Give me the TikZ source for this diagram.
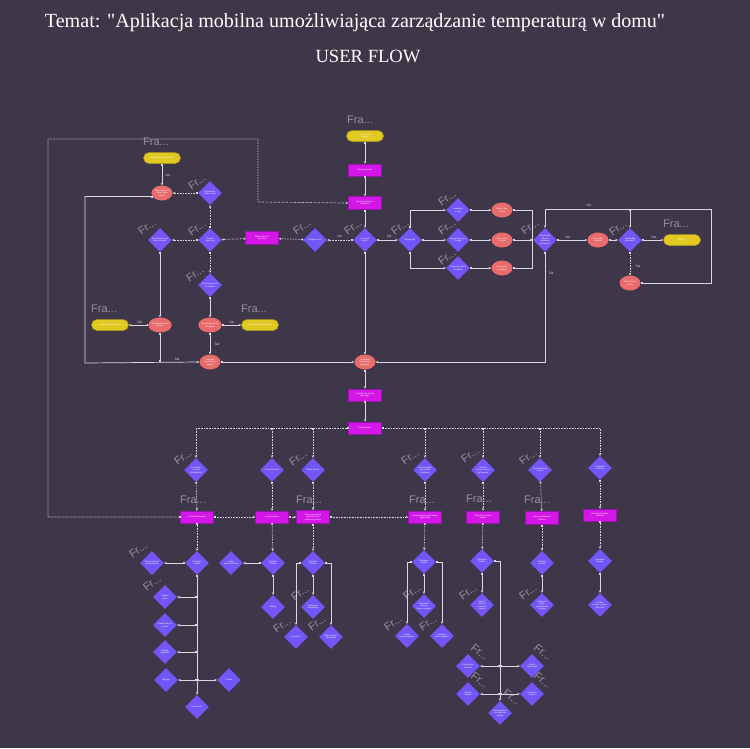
\documentclass[tikz,border=0pt]{standalone}
\usepackage{fontspec}
\setmainfont{Liberation Serif}
\newfontfamily\nf{Liberation Sans}
\usetikzlibrary{shapes.geometric,arrows.meta}
\definecolor{bgC}{RGB}{62,55,73}
\definecolor{diaC}{RGB}{114,86,247}
\definecolor{magC}{RGB}{212,22,232}
\definecolor{magD}{RGB}{150,20,170}
\definecolor{ellC}{RGB}{233,107,107}
\definecolor{yelC}{RGB}{224,201,32}
\definecolor{yelD}{RGB}{170,150,30}
\definecolor{lnC}{RGB}{218,215,224}
\definecolor{frC}{RGB}{150,146,158}
\newcommand\nt{\nf\fontsize{2.1}{2.5}\selectfont}
\begin{document}
\begin{tikzpicture}[x=1pt,y=-1pt,
  dia/.style={diamond,fill=diaC,minimum width=24pt,minimum height=24pt,inner sep=0pt,text=white,font=\nt,align=center},
  rectb/.style={rectangle,fill=magC,draw=magD,line width=0.5pt,minimum width=33pt,minimum height=12pt,inner sep=0.5pt,text=white,font=\nt,align=center},
  ell/.style={ellipse,fill=ellC,minimum width=21pt,minimum height=15pt,inner sep=0pt,text=white,font=\nt,align=center},
  pill/.style={rectangle,rounded corners=5.5pt,fill=yelC,draw=yelD,line width=0.5pt,minimum width=37pt,minimum height=11pt,inner sep=0.5pt,text=white,font=\nt,align=center},
  ed/.style={draw=lnC,line width=0.7pt,{Square[length=1.6pt,width=1.6pt]}-{Stealth[length=2.6pt,width=2.4pt]}},
  edsq/.style={draw=lnC,line width=0.7pt,{Square[length=1.6pt,width=1.6pt]}-{Square[length=1.6pt,width=1.6pt]}},
  dt/.style={ed,dash pattern=on 0.7pt off 0.9pt},
  lab/.style={text=lnC,font=\nf\fontsize{3.2}{3.5}\selectfont,inner sep=0pt},
  fra/.style={text=frC,font=\nf\fontsize{11}{11}\selectfont,inner sep=0pt},
  frr/.style={fra,rotate=36},
  frl/.style={fra,rotate=-38}]
\fill[bgC] (0,0) rectangle (750,748);
\useasboundingbox (0,0) rectangle (750,748);

% titles
\node[text=white,inner sep=0pt] (title) at (355,23) {\resizebox{620pt}{!}{Temat: \textquotedbl Aplikacja mobilna umożliwiająca zarządzanie temperaturą w domu\textquotedbl}};
\node[text=white,inner sep=0pt] (sub) at (368,56) {\resizebox{105pt}{!}{USER FLOW}};

% ---------- top: registration ----------
\node[pill] (start) at (365,136) {Uruchomienie\\aplikacji};
\node[rectb] (powit) at (365,170) {Ekran powitalny};
\node[rectb,minimum height=13pt] (logrej) at (365,203) {Ekran logowania /\\rejestracji};
\node[dia] (konto) at (365,240) {Czy masz\\konto?};
\node[dia] (zarej) at (315,240) {Zarejestruj się};
\node[rectb,minimum height=13pt] (dane) at (262,238) {Wpisz dane do\\rejestracji};
\node[dia] (sposob) at (210,240) {Sposób\\rejestracji};
\node[dia] (email) at (210,193) {Rejestracja\\przez e-mail};
\node[ell] (wer1) at (162,193) {Wprowadzenie\\i weryfikacja\\danych};
\node[pill] (ok1) at (162,158) {Rejestracja zakończona};
\node[dia] (google) at (160,240) {Rejestracja przez\\konto Google};
\node[ell] (wer2) at (160,325) {Weryfikacja konta\\Google};
\node[pill] (ok2) at (110,325) {Rejestracja zakończona};
\node[dia] (fb) at (210,285) {Rejestracja przez\\Facebook};
\node[ell] (wer3) at (210,325) {Weryfikacja konta\\Facebook};
\node[pill] (ok3) at (260,325) {Rejestracja zakończona};
\node[ell] (blad) at (210,362) {Ponowna\\weryfikacja\\danych};

% ---------- top: login ----------
\node[dia] (zalog) at (410,240) {Zaloguj się};
\node[dia] (le) at (458,210) {Logowanie\\e-mail};
\node[dia] (lg) at (458,240) {Logowanie przez\\Google};
\node[dia] (lf) at (458,268) {Logowanie przez\\Facebook};
\node[ell] (ae) at (502,210) {Wpisz login\\i hasło};
\node[ell] (ag) at (502,240) {Autoryzacja\\Google};
\node[ell] (af) at (502,268) {Autoryzacja\\Facebook};
\node[dia] (weryf) at (545,240) {Weryfikacja\\danych\\logowania\\poprawna?};
\node[ell] (kom) at (598,240) {Komunikat\\o błędzie};
\node[dia] (ponow) at (630,240) {Spróbować\\ponownie?};
\node[pill] (wyj) at (682,240) {Wyjście};
\node[ell] (reset) at (630,283) {Resetowanie\\hasła};
\node[ell] (sukc) at (365,362) {Logowanie\\zakończone\\pomyślnie};
\node[rectb] (przej) at (365,395) {Przejście do ekranu\\głównego};
\node[rectb] (glowny) at (365,428) {Ekran główny};

% ---------- main menu row ----------
\node[dia] (r1d) at (196,470) {Informacje\\o koncie\\użytkownika};
\node[dia] (r2d) at (272,470) {Pomieszczenia};
\node[dia] (r3d) at (313,470) {Wybór pokoju};
\node[dia] (r4d) at (425,470) {Harmonogram\\ogrzewania\\w tygodniu};
\node[dia] (r5d) at (483,470) {Zużycie\\energii i koszty\\ogrzewania};
\node[dia] (r6d) at (540,470) {Powiadomienia\\i alerty};
\node[dia] (r7d) at (600,468) {Ustawienia\\aplikacji};

\node[rectb] (p1) at (197,517) {Profil użytkownika};
\node[rectb] (p2) at (272,517) {Pomieszczenia};
\node[rectb,minimum height=13pt] (p3) at (313,517) {Panel sterowania\\temperaturą w\\wybranym pokoju};
\node[rectb] (p4) at (425,517) {Harmonogram ogrzewania\\tygodniowy};
\node[rectb] (p5) at (483,517) {Statystyki zużycia\\energii};
\node[rectb,minimum height=13pt] (p6) at (542,518) {Lista powiadomień\\i alertów};
\node[rectb] (p7) at (600,515) {Ustawienia ogólne\\aplikacji};

% ---------- lower columns ----------
\node[dia] (d1a) at (197,563) {Dostępne\\funkcje};
\node[dia] (d1l) at (152,563) {Zmiana danych\\personalnych};
\node[dia] (d1b) at (165,597) {Zmiana\\hasła};
\node[dia] (d1c) at (165,625) {Zmiana adresu\\e-mail};
\node[dia] (d1d) at (165,652) {Metody\\logowania};
\node[dia] (d1e) at (166,680) {Wyloguj};
\node[dia] (d1f) at (229,680) {Pomoc};
\node[dia] (d1g) at (197,707) {Usuń konto};

\node[dia] (d2a) at (273,563) {Dostępne\\funkcje};
\node[dia] (d2l) at (231,563) {Dodaj\\pomieszczenie};
\node[dia] (d2b) at (273,607) {Edytuj};

\node[dia] (d3a) at (313,563) {Dostępne\\funkcje};
\node[dia] (d3b) at (313,607) {Ustawienie\\temperatury};
\node[dia] (d3c) at (296,637) {Tryb ECO};
\node[dia] (d3d) at (331,637) {Włącz/wyłącz\\ogrzewanie};

\node[dia] (d4a) at (424,562) {Dostępne\\funkcje};
\node[dia] (d4b) at (424,606) {Dodawanie\\nowego\\harmonogramu};
\node[dia] (d4c) at (407,636) {Edycja\\harmonogramu};
\node[dia] (d4d) at (442,636) {Usuwanie\\harmonogramu};

\node[dia] (d5a) at (482,561) {Dostępne\\funkcje};
\node[dia] (d5b) at (482,605) {Wykres\\zużycia\\w danym\\okresie};
\node[dia] (d5c) at (468,666) {Porównanie\\okresów};
\node[dia] (d5d) at (532,666) {Koszty\\ogrzewania};
\node[dia] (d5e) at (468,694) {Eksport\\danych};
\node[dia] (d5f) at (532,694) {Prognoza\\zużycia};
\node[dia] (d5g) at (500,713) {Rekomendacje\\oszczędzania\\energii};

\node[dia] (d6a) at (542,563) {Dostępne\\funkcje};
\node[dia] (d6b) at (542,605) {Ustawienie\\typów\\powiadomień\\i alertów};

\node[dia] (d7a) at (600,561) {Dostępne\\funkcje};
\node[dia] (d7b) at (600,605) {Zmiana\\motywu, języka,\\jednostek};

% ---------- frame labels ----------
\foreach \x/\y in {360/120,156/142,104/309,254/309,676/224,193/500,309/500,422/500,479/499,537/500}
  \node[fra] at (\x,\y) {Fra...};
\foreach \x/\y in {197/182,147/227,197/228,302/227,353/227,400/227,447/198,447/227,447/257,530/227,618/228,195/274,183/457,298/458,410/457,470/455,528/457,138/550,152/583,300/593,282/625,317/623,412/592,393/623,428/623,468/592,528/592}
  \node[frr] at (\x,\y) {Fr...};
\foreach \x/\y in {480/652,480/680,543/652,543/680,512/697}
  \node[frl] at (\x,\y) {Fr...};

% ---------- coordinates ----------
\coordinate (cL) at (85,363);
\coordinate (cR) at (532,240);
\coordinate (cLoopR) at (711,209);
\coordinate (cD1) at (48,139);
\coordinate (cD2) at (258,202);

% ---------- connectors: top ----------
\draw[ed] (start) -- (powit);
\draw[ed] (powit) -- (logrej);
\draw[ed] (logrej) -- (konto);
\draw[dt] (konto) -- (zarej);
\draw[dt] (zarej) -- (dane);
\draw[dt] (dane) -- (sposob);
\draw[dt] (sposob) -- (email);
\draw[dt] (email) -- (wer1);
\draw[ed] (ok1) -- (wer1);
\draw[dt] (sposob) -- (google);
\draw[ed] (google) -- (wer2);
\draw[ed] (wer2) -- (ok2);
\draw[edsq] (wer2.south) -- (wer2.south |- blad.west);
\draw[dt] (sposob) -- (fb);
\draw[ed] (fb) -- (wer3);
\draw[ed] (wer3) -- (ok3);
\draw[ed] (wer3) -- (blad);
\draw[ed] (wer1.200) -| (cL) -- (blad.west);
\draw[ed] (blad) -- (sukc);
\draw[ed] (konto) -- (sukc);
\draw[ed] (konto) -- (zalog);
\draw[ed] (zalog.north) |- (le.west);
\draw[ed] (zalog) -- (lg);
\draw[ed] (zalog.south) |- (lf.west);
\draw[ed] (le) -- (ae);
\draw[ed] (lg) -- (ag);
\draw[ed] (lf) -- (af);
\draw[ed] (ae.east) -| (cR) -- (weryf.west);
\draw[ed] (ag) -- (weryf);
\draw[ed] (af.east) -| (cR) -- (weryf.west);
\draw[ed] (weryf) -- (kom);
\draw[ed] (kom) -- (ponow);
\draw[ed] (ponow) -- (wyj);
\draw[dt] (ponow) -- (reset);
\draw[ed] (reset.east) -| (cLoopR) -| (weryf.north);
\draw[ed] (ponow.north |- cLoopR) -- (ponow.north);
\draw[ed] (weryf.south) |- (sukc.east);
\draw[ed] (sukc) -- (przej);
\draw[ed] (przej) -- (glowny);

% edge labels
\node[lab] (l1) at (168,175) {Nie};
\node[lab] (l2) at (340,236) {Nie};
\node[lab] (l3) at (389,236) {Tak};
\node[lab] (l4) at (140,322) {Nie};
\node[lab] (l5) at (232,322) {Nie};
\node[lab] (l6) at (217,344) {Tak};
\node[lab] (l7) at (177,359) {Tak};
\node[lab] (l8) at (568,237) {Nie};
\node[lab] (l9) at (654,237) {Nie};
\node[lab] (l10) at (638,266) {Tak};
\node[lab] (l11) at (589,205) {Nie};
\node[lab] (l12) at (551,273) {Tak};

% ---------- connectors: main menu ----------
\draw[dt] (glowny.west) -| (r1d.north);
\draw[dt] (glowny.east) -| (r7d.north);
\foreach \n in {r2d,r3d,r4d,r5d,r6d}
  \draw[dt] (\n.north |- glowny.west) -- (\n.north);
\foreach \i in {1,...,7}
  \draw[dt] (r\i d) -- (p\i);
\foreach \i in {1,...,7}
  \draw[dt] (p\i) -- (d\i a);
\draw[dt] (p1) -- (p2);
\draw[dt] (p2) -- (p3);
\draw[dt] (p3) -- (p4);
\draw[dt] (p1.west) -| (cD1) -| (cD2) -- (logrej.west);

% ---------- connectors: lower ----------
\draw[ed] (d1a) -- (d1l);
\draw[ed] (d1a) -- (d1g);
\foreach \n in {d1b,d1c,d1d,d1e}
  \draw[ed] (d1a.south |- \n.east) -- (\n.east);
\draw[ed] (d1a.south |- d1f.west) -- (d1f.west);

\draw[ed] (d2a) -- (d2l);
\draw[ed] (d2a) -- (d2b);

\draw[ed] (d3a.west) -| (d3c.north);
\draw[ed] (d3a) -- (d3b);
\draw[ed] (d3a.east) -| (d3d.north);

\draw[ed] (d4a.west) -| (d4c.north);
\draw[ed] (d4a) -- (d4b);
\draw[ed] (d4a.east) -| (d4d.north);

\draw[ed] (d5a) -- (d5b);
\draw[ed] (d5a.east) -| (d5g.north);
\draw[ed] (d5g.north |- d5c.east) -- (d5c.east);
\draw[ed] (d5g.north |- d5d.west) -- (d5d.west);
\draw[ed] (d5g.north |- d5e.east) -- (d5e.east);
\draw[ed] (d5g.north |- d5f.west) -- (d5f.west);

\draw[ed] (d6a) -- (d6b);
\draw[ed] (d7a) -- (d7b);
\end{tikzpicture}
\end{document}
